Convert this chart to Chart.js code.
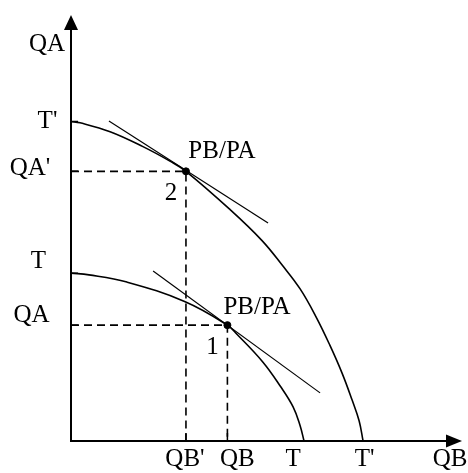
<!DOCTYPE html>
<html>
<head>
    <title>Production Possibility Frontiers</title>
    <style>
        body, html {
            margin: 0;
            background-color: #fff;
        }
        #myChart {
            display: block;
        }
    </style>
</head>
<body>
    <canvas id="myChart" width="468" height="473"></canvas>
    <script src="https://cdn.jsdelivr.net/npm/chart.js"></script>
    <script>
        // axis labels
        const xTickLabels = ["QB'", "QB", "T", "T'"];
        const xTickValues = [29.4, 40.0, 59.6, 74.7];
        const yTickLabels = ["T'", "QA'", "T", "QA"];
        const yTickValues = [75.0, 63.3, 39.4, 27.2];
        const xAxisTitle = "QB";
        const yAxisTitle = "QA";

        // outer frontier T'T'
        const outerX = [0, 2.3, 10.0, 18.4, 25.3, 29.4, 40.7, 48.8, 54.0, 58.6, 62.7, 66.2, 69.3, 71.9, 73.7, 74.7];
        const outerY = [75.0, 74.7, 72.6, 69.1, 65.7, 63.3, 54.3, 47.1, 41.3, 35.7, 29.1, 22.5, 16.0, 9.6, 4.7, 0];

        // inner frontier TT
        const innerX = [0, 4.6, 14.3, 29.2, 40.0, 42.5, 49.1, 53.5, 56.8, 58.6, 59.6];
        const innerY = [39.4, 39.0, 37.3, 32.7, 27.2, 25.0, 18.5, 12.9, 8.0, 3.6, 0];

        // relative price lines PB/PA
        const priceLabel = "PB/PA";
        const price2X = [9.7, 50.4];
        const price2Y = [75.1, 51.2];
        const price1X = [21.0, 63.7];
        const price1Y = [39.9, 11.3];

        // production points 2 and 1
        const pointLabels = ["2", "1"];
        const pointX = [29.4, 40.0];
        const pointY = [63.3, 27.2];

        function pts(xs, ys) {
            return xs.map((x, i) => ({ x: x, y: ys[i] }));
        }

        function guide(i) {
            return [{ x: 0, y: pointY[i] }, { x: pointX[i], y: pointY[i] }, { x: pointX[i], y: 0 }];
        }

        const FONT = '25px "Liberation Serif", "Times New Roman", serif';

        // pixel nudges for the text, relative to the value they belong to
        const yLabelPos = [[-23.5, 6.5], [-41, 3.7], [-32.5, -5], [-39.5, -3]];
        const xLabelPos = [[-1, 25], [10, 25], [-11, 25], [1.5, 25]];

        const diagramPlugin = {
            id: 'diagram',
            afterDatasetsDraw(chart) {
                const ctx = chart.ctx;
                const xs = chart.scales.x, ys = chart.scales.y;
                const x0 = xs.getPixelForValue(0), y0 = ys.getPixelForValue(0);
                const xEnd = xs.getPixelForValue(xs.max), yEnd = ys.getPixelForValue(ys.max);
                ctx.save();
                ctx.fillStyle = '#000';
                ctx.strokeStyle = '#000';

                // axes
                ctx.lineWidth = 2;
                ctx.beginPath();
                ctx.moveTo(x0, yEnd + 4);
                ctx.lineTo(x0, y0);
                ctx.lineTo(xEnd - 4, y0);
                ctx.stroke();

                // arrow heads
                ctx.beginPath();
                ctx.moveTo(x0, yEnd);
                ctx.lineTo(x0 - 7, yEnd + 15);
                ctx.lineTo(x0 + 7, yEnd + 15);
                ctx.closePath();
                ctx.fill();
                ctx.beginPath();
                ctx.moveTo(xEnd, y0);
                ctx.lineTo(xEnd - 16, y0 - 6.5);
                ctx.lineTo(xEnd - 16, y0 + 6.5);
                ctx.closePath();
                ctx.fill();

                // tick marks, inside the axes
                ctx.lineWidth = 1.5;
                ctx.beginPath();
                yTickValues.forEach(v => {
                    const py = ys.getPixelForValue(v);
                    ctx.moveTo(x0, py);
                    ctx.lineTo(x0 + 7, py);
                });
                xTickValues.slice(0, 2).forEach(v => {
                    const px = xs.getPixelForValue(v);
                    ctx.moveTo(px, y0);
                    ctx.lineTo(px, y0 - 8);
                });
                ctx.stroke();

                // text
                ctx.font = FONT;
                ctx.textAlign = 'center';
                ctx.textBaseline = 'alphabetic';
                yTickLabels.forEach((t, i) => {
                    ctx.fillText(t, x0 + yLabelPos[i][0], ys.getPixelForValue(yTickValues[i]) + yLabelPos[i][1]);
                });
                xTickLabels.forEach((t, i) => {
                    ctx.fillText(t, xs.getPixelForValue(xTickValues[i]) + xLabelPos[i][0], y0 + xLabelPos[i][1]);
                });
                ctx.fillText(xAxisTitle, xEnd - 12, y0 + 25);
                ctx.fillText(yAxisTitle, x0 - 24, yEnd + 36);

                const labelShift = [[36, -13.5], [29.6, -11.6]];
                pointLabels.forEach((t, i) => {
                    const px = xs.getPixelForValue(pointX[i]);
                    const py = ys.getPixelForValue(pointY[i]);
                    ctx.fillText(priceLabel, px + labelShift[i][0], py + labelShift[i][1]);
                    ctx.fillText(t, px - 15, py + 28.5);
                });
                ctx.restore();
            }
        };

        const curveStyle = {
            showLine: true,
            tension: 0.4,
            borderColor: '#000',
            borderWidth: 1.6,
            pointRadius: 0
        };
        const priceStyle = { showLine: true, borderColor: '#000', borderWidth: 1.2, pointRadius: 0 };
        const guideStyle = { showLine: true, borderColor: '#000', borderWidth: 1.6, borderDash: [8, 5], pointRadius: 0 };

        const ctx = document.getElementById('myChart').getContext('2d');
        const myChart = new Chart(ctx, {
            type: 'scatter',
            data: {
                datasets: [
                    Object.assign({ label: "T'T'", data: pts(outerX, outerY) }, curveStyle),
                    Object.assign({ label: 'TT', data: pts(innerX, innerY) }, curveStyle),
                    Object.assign({ label: 'PB/PA at 2', data: pts(price2X, price2Y) }, priceStyle),
                    Object.assign({ label: 'PB/PA at 1', data: pts(price1X, price1Y) }, priceStyle),
                    Object.assign({ label: 'guide 2', data: guide(0) }, guideStyle),
                    Object.assign({ label: 'guide 1', data: guide(1) }, guideStyle),
                    {
                        label: 'points',
                        data: pts(pointX, pointY),
                        backgroundColor: '#000',
                        borderColor: '#000',
                        pointRadius: 3.5
                    }
                ]
            },
            options: {
                responsive: false,
                animation: false,
                layout: { padding: { left: 71, right: 6, top: 15, bottom: 32 } },
                plugins: {
                    legend: { display: false },
                    tooltip: { enabled: false }
                },
                scales: {
                    x: { type: 'linear', min: 0, max: 100, display: false },
                    y: { type: 'linear', min: 0, max: 100, display: false }
                }
            },
            plugins: [diagramPlugin]
        });
    </script>
</body>
</html>
